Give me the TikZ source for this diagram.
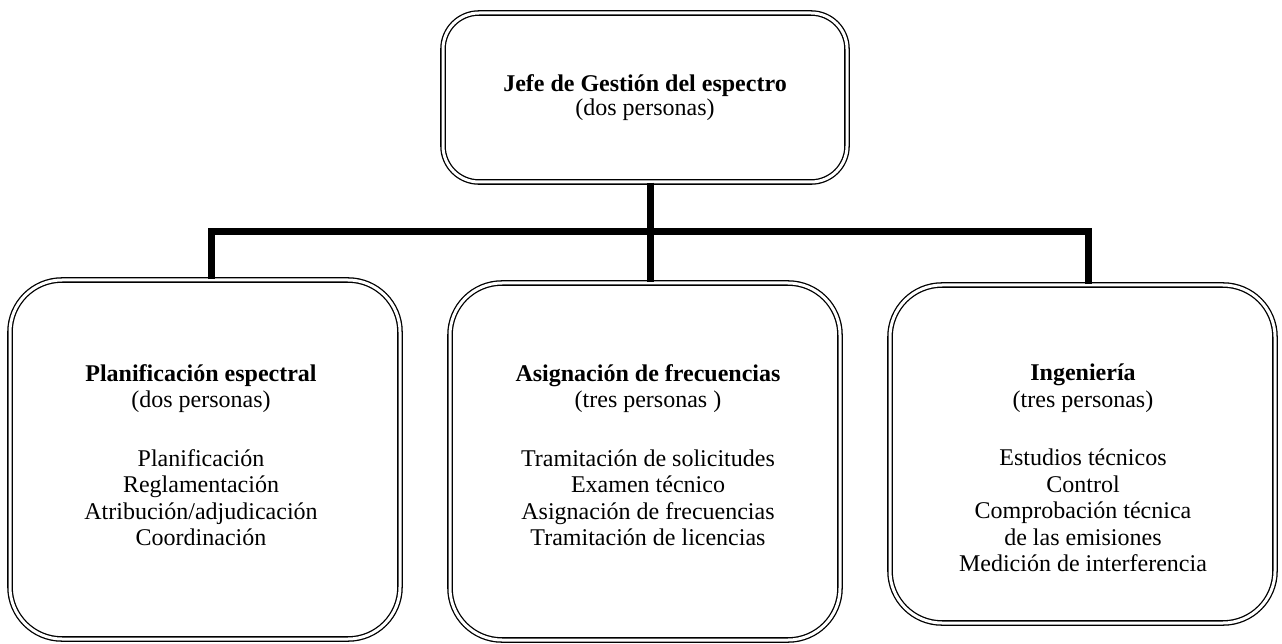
\documentclass[tikz,border=0pt]{standalone}
\usepackage{fontspec}
\setmainfont{Liberation Serif}

\begin{document}
\begin{tikzpicture}[x=1pt, y=-1pt,
    box/.style={draw, double, double distance=3pt, line width=1.3pt,
        rounded corners=#1, inner sep=0pt},
    box/.default=52pt,
    txt/.style={align=center, inner sep=0pt, font=\fontsize{24}{26.5}\selectfont},
    link/.style={line width=7pt}]
    \useasboundingbox (0,0) rectangle (1282,644);
    % head of the unit
    \node[box=36pt, txt, minimum width=404pt, minimum height=169pt] (jefe) at (645,97.5)
        {\textbf{Jefe de Gestión del espectro}\\[-3pt](dos personas)};
    % the three sections
    \node[box, minimum width=390pt, minimum height=359pt] (plan) at (205,459.5) {};
    \node[box, minimum width=390pt, minimum height=357pt] (asign) at (645,461.5) {};
    \node[box, minimum width=385pt, minimum height=338pt] (ingen) at (1082.5,454) {};
    \node[txt, anchor=north] (plantxt) at (201,364)
        {\textbf{Planificación espectral}\\(dos personas)\\[32pt]Planificación\\Reglamentación\\Atribución/adjudicación\\Coordinación};
    \node[txt, anchor=north] (asigntxt) at (648,364)
        {\textbf{Asignación de frecuencias}\\(tres personas )\\[32pt]Tramitación de solicitudes\\Examen técnico\\Asignación de frecuencias\\Tramitación de licencias};
    \node[txt, anchor=north] (ingentxt) at (1083,364)
        {\textbf{Ingeniería}\\(tres personas)\\[32pt]Estudios técnicos\\Control\\Comprobación técnica\\de las emisiones\\Medición de interferencia};
    % connectors
    \coordinate (junc) at (650,232);
    \draw[link] ([xshift=5pt]jefe.south) -- (junc);
    \draw[link] (junc) -| ([xshift=6pt]plan.north);
    \draw[link] (junc) -| ([xshift=6pt]ingen.north);
    \draw[link] (junc) -- ([xshift=5pt]asign.north);
\end{tikzpicture}
\end{document}
